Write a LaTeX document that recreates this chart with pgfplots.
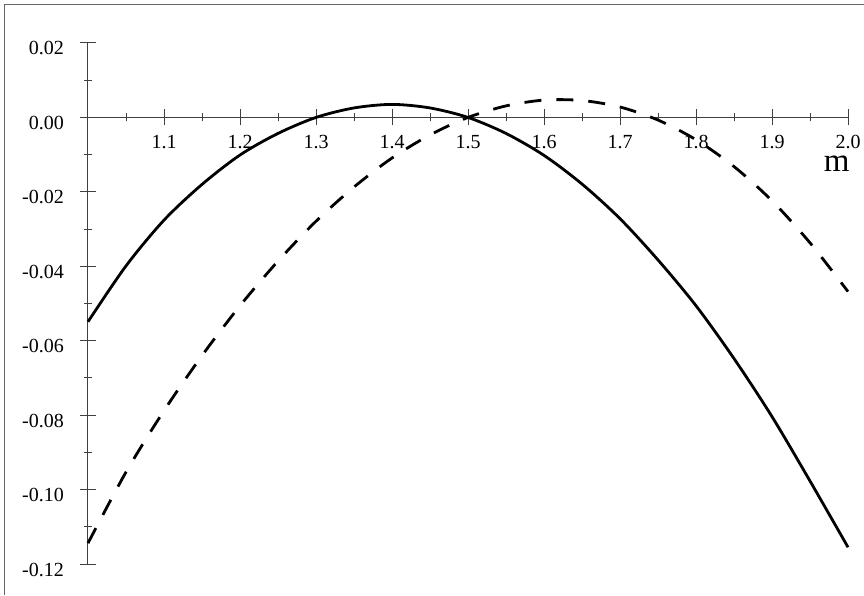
\documentclass[border=0pt]{standalone}
\usepackage{fontspec}
\setmainfont{Liberation Serif}
\usepackage{pgfplots}
\pgfplotsset{compat=1.18}
\begin{document}
\begin{tikzpicture}
\useasboundingbox (0,0) rectangle (864pt,595pt);
% frame of the original plot window (top and left edges only)
\draw[black!60, line width=1.2pt] (4.5pt,0pt) -- (4.5pt,590.5pt) -- (864pt,590.5pt);
\begin{axis}[
    at={(88pt,31pt)}, anchor=south west,
    scale only axis,
    width=760pt, height=521pt,
    xmin=1, xmax=2, ymin=-0.12, ymax=0.02,
    axis x line=middle, axis y line=left,
    axis line style={-, black!75, line width=1pt},
    tick style={black!75, line width=1pt},
    tick align=center,
    major tick length=16pt, minor tick length=8pt,
    xtick={1.1,1.2,1.3,1.4,1.5,1.6,1.7,1.8,1.9,2.0},
    xticklabels={1.1,1.2,1.3,1.4,1.5,1.6,1.7,1.8,1.9,2.0},
    minor xtick={1.05,1.15,1.25,1.35,1.45,1.55,1.65,1.75,1.85,1.95},
    ytick={-0.12,-0.10,-0.08,-0.06,-0.04,-0.02,0,0.02},
    yticklabels={-0.12,-0.10,-0.08,-0.06,-0.04,-0.02,0.00,0.02},
    minor ytick={-0.11,-0.09,-0.07,-0.05,-0.03,-0.01,0.01},
    ticklabel style={font=\fontsize{20}{20}\selectfont, inner sep=0pt},
    xticklabel style={anchor=base, yshift=-23pt},
    yticklabel style={anchor=base east, xshift=-16pt, yshift=-12pt},
    xlabel={m},
    xlabel style={at={(axis description cs:0.985,0.857)}, anchor=base,
        yshift=-54pt, inner sep=0pt, font=\fontsize{33}{33}\selectfont},
    clip=false,
]
% solid curve
\addplot[black, line width=2.8pt, smooth] coordinates {
(1.00,-0.0549) (1.05,-0.0399) (1.10,-0.0276) (1.15,-0.0180) (1.20,-0.0101)
(1.25,-0.0043) (1.30,0.0000) (1.35,0.00255) (1.40,0.0035) (1.45,0.00255)
(1.50,0.0000) (1.55,-0.0043) (1.60,-0.0102) (1.65,-0.0179) (1.70,-0.0272)
(1.75,-0.0383) (1.80,-0.0506) (1.85,-0.0648) (1.90,-0.0804) (1.95,-0.0977)
(2.00,-0.1155)
};
% dashed curve
\addplot[black, line width=2.8pt, smooth, dash pattern=on 17pt off 15pt] coordinates {
(1.00,-0.1144) (1.05,-0.0953) (1.10,-0.0788) (1.15,-0.0640) (1.20,-0.0506)
(1.25,-0.0386) (1.30,-0.0279) (1.35,-0.0187) (1.40,-0.0109) (1.45,-0.0047)
(1.50,0.0000) (1.55,0.0031) (1.60,0.00466) (1.65,0.00455) (1.70,0.0028)
(1.75,-0.0007) (1.80,-0.0060) (1.85,-0.0132) (1.90,-0.0224) (1.95,-0.0337)
(2.00,-0.0468)
};
\end{axis}
\end{tikzpicture}
\end{document}
